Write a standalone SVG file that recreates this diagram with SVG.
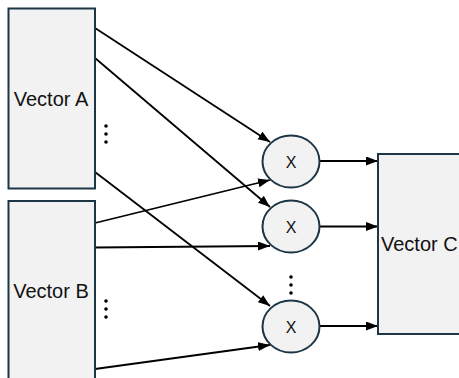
<svg xmlns="http://www.w3.org/2000/svg" width="459" height="378" viewBox="0 0 459 378">
<style>
.box{fill:#f2f2f2;stroke:#1c3646;stroke-width:2}
.lbl{font-family:"Liberation Sans",Arial,sans-serif;font-size:20px;fill:#111}
.x{font-family:"Liberation Sans",Arial,sans-serif;font-size:16px;fill:#111;text-anchor:middle}
.c{stroke:#000;stroke-width:1.8;fill:none;marker-end:url(#ah)}
.dot{fill:#000}
</style>
<defs>
<marker id="ah" markerUnits="userSpaceOnUse" markerWidth="13" markerHeight="10" refX="12" refY="4.5" orient="auto">
<path d="M0,0 L12,4.5 L0,9 z" fill="#000"/>
</marker>
</defs>
<rect width="459" height="378" fill="#fff"/>
<g id="connectors">
<line class="c" x1="95" y1="28" x2="270" y2="142"/>
<line class="c" x1="95" y1="58" x2="270" y2="207"/>
<line class="c" x1="95" y1="172" x2="270" y2="306"/>
<line class="c" x1="95" y1="223" x2="270" y2="180"/>
<line class="c" x1="95" y1="247.5" x2="270" y2="246"/>
<line class="c" x1="95" y1="369" x2="270" y2="345"/>
<line class="c" x1="320" y1="161" x2="378" y2="161"/>
<line class="c" x1="320" y1="226.5" x2="378" y2="226.5"/>
<line class="c" x1="320" y1="326" x2="378" y2="326"/>
</g>
<g id="vectorA">
<rect class="box" x="8.5" y="8.5" width="86.5" height="180"/>
<text class="lbl" x="51" y="105.5" text-anchor="middle">Vector A</text>
</g>
<g id="vectorB">
<rect class="box" x="8.5" y="201" width="86.5" height="200"/>
<text class="lbl" x="51" y="298" text-anchor="middle">Vector B</text>
</g>
<g id="vectorC">
<rect class="box" x="378" y="154" width="100" height="180"/>
<text class="lbl" x="381" y="251">Vector C</text>
</g>
<g id="mul1">
<ellipse class="box" cx="291" cy="161.5" rx="28.5" ry="26"/>
<text class="x" x="291" y="167.5">X</text>
</g>
<g id="mul2">
<ellipse class="box" cx="291" cy="226.5" rx="28.5" ry="26"/>
<text class="x" x="291" y="232.5">X</text>
</g>
<g id="mul3">
<ellipse class="box" cx="291" cy="326.5" rx="28.5" ry="26"/>
<text class="x" x="291" y="332.5">X</text>
</g>
<g id="ellipsisA">
<circle class="dot" cx="106" cy="126" r="1.8"/>
<circle class="dot" cx="106" cy="134" r="1.8"/>
<circle class="dot" cx="106" cy="142" r="1.8"/>
</g>
<g id="ellipsisB">
<circle class="dot" cx="106" cy="301" r="1.8"/>
<circle class="dot" cx="106" cy="309" r="1.8"/>
<circle class="dot" cx="106" cy="317" r="1.8"/>
</g>
<g id="ellipsisMul">
<circle class="dot" cx="291" cy="277" r="1.8"/>
<circle class="dot" cx="291" cy="285" r="1.8"/>
<circle class="dot" cx="291" cy="293" r="1.8"/>
</g>
</svg>
